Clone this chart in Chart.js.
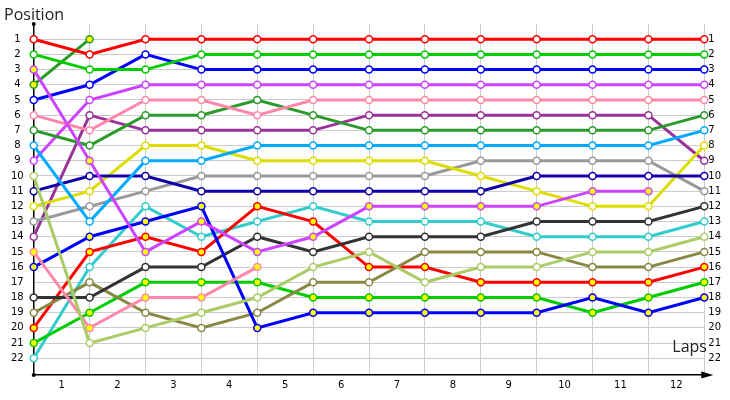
<!DOCTYPE html>
<html>
<head>
<meta charset="utf-8">
<script src="https://cdn.jsdelivr.net/npm/chart.js@4"></script>
<style>
  html, body { margin: 0; background: #fff; }
  #wrap { width: 730px; height: 400px; }
</style>
</head>
<body>
<div id="wrap"><canvas id="race"></canvas></div>
<script>
// x = 0 is the start grid, then one column per lap
const laps = [0, 1, 2, 3, 4, 5, 6, 7, 8, 9, 10, 11, 12];
const lapLabels = ['1', '2', '3', '4', '5', '6', '7', '8', '9', '10', '11', '12'];
const positions = [1, 2, 3, 4, 5, 6, 7, 8, 9, 10, 11, 12, 13, 14, 15, 16, 17, 18, 19, 20, 21, 22];

const redTop     = [1, 2, 1, 1, 1, 1, 1, 1, 1, 1, 1, 1, 1];
const greenTop   = [2, 3, 3, 2, 2, 2, 2, 2, 2, 2, 2, 2, 2];
const violetPit  = [3, 9, 15, 13, 15, 14, 12, 12, 12, 12, 11, 11, null];
const forestPit  = [4, 1, null, null, null, null, null, null, null, null, null, null, null];
const blueTop    = [5, 4, 2, 3, 3, 3, 3, 3, 3, 3, 3, 3, 3];
const pinkTop    = [6, 7, 5, 5, 6, 5, 5, 5, 5, 5, 5, 5, 5];
const forest     = [7, 8, 6, 6, 5, 6, 7, 7, 7, 7, 7, 7, 6];
const sky        = [8, 13, 9, 9, 8, 8, 8, 8, 8, 8, 8, 8, 7];
const violet     = [9, 5, 4, 4, 4, 4, 4, 4, 4, 4, 4, 4, 4];
const lime       = [10, 21, 20, 19, 18, 16, 15, 17, 16, 16, 15, 15, 14];
const navy       = [11, 10, 10, 11, 11, 11, 11, 11, 11, 10, 10, 10, 10];
const yellow     = [12, 11, 8, 8, 9, 9, 9, 9, 10, 11, 12, 12, 8];
const grey       = [13, 12, 11, 10, 10, 10, 10, 10, 9, 9, 9, 9, 11];
const plum       = [14, 6, 7, 7, 7, 7, 6, 6, 6, 6, 6, 6, 9];
const pinkPit    = [15, 20, 18, 18, 16, null, null, null, null, null, null, null, null];
const bluePit    = [16, 14, 13, 12, 20, 19, 19, 19, 19, 19, 18, 19, 18];
const charcoal   = [18, 18, 16, 16, 14, 15, 14, 14, 14, 13, 13, 13, 12];
const olive      = [19, 17, 19, 20, 19, 17, 17, 15, 15, 15, 16, 16, 15];
const redPit     = [20, 15, 14, 15, 12, 13, 16, 16, 17, 17, 17, 17, 16];
const greenPit   = [21, 19, 17, 17, 17, 18, 18, 18, 18, 18, 19, 18, 17];
const cyan       = [22, 16, 12, 14, 13, 12, 13, 13, 13, 14, 14, 14, 13];

const series = [
    [redTop, '#ff0000', false],
    [greenTop, '#00cc00', false],
    [violetPit, '#cc44ff', true],
    [forestPit, '#2a9a2a', true],
    [blueTop, '#0000ff', false],
    [pinkTop, '#ff88aa', false],
    [forest, '#2a9a2a', false],
    [sky, '#00aaff', false],
    [violet, '#cc44ff', false],
    [lime, '#aacc66', false],
    [navy, '#1100aa', false],
    [yellow, '#dddd00', false],
    [grey, '#999999', false],
    [plum, '#993399', false],
    [pinkPit, '#ff88aa', true],
    [bluePit, '#0000ff', true],
    [charcoal, '#333333', false],
    [olive, '#888844', false],
    [redPit, '#ff0000', true],
    [greenPit, '#00cc00', true],
    [cyan, '#33cccc', false],
];

const tickFont = { family: 'DejaVu Sans', size: 10 };
const gridColor = '#cccccc';

const axisDecor = {
    id: 'axisDecor',
    afterDraw(chart) {
        const ctx = chart.ctx;
        const a = chart.chartArea;
        ctx.save();
        ctx.fillStyle = '#000';
        // arrow on the lap axis
        ctx.beginPath();
        ctx.moveTo(a.right + 9, a.bottom);
        ctx.lineTo(a.right - 3, a.bottom - 3.5);
        ctx.lineTo(a.right - 3, a.bottom + 3.5);
        ctx.closePath();
        ctx.fill();
        ctx.beginPath();
        ctx.arc(a.left, a.top, 2, 0, Math.PI * 2);
        ctx.arc(a.left, a.bottom, 2, 0, Math.PI * 2);
        ctx.fill();
        ctx.fillStyle = '#222';
        ctx.font = '16px "Open Sans"';
        ctx.textBaseline = 'alphabetic';
        ctx.fillText('Position', 4, 20);
        ctx.fillText('Laps', a.right - 32, a.bottom - 23);
        ctx.restore();
    }
};

new Chart(document.getElementById('race'), {
    type: 'line',
    data: {
        datasets: series.map(([vals, color, pit]) => ({
            data: laps.map((lap, i) => ({ x: lap, y: vals[i] })),
            borderColor: color,
            backgroundColor: color,
            borderWidth: 3,
            pointRadius: 3.5,
            pointBorderWidth: 1.5,
            pointBorderColor: color,
            pointBackgroundColor: pit ? '#ffff00' : '#ffffff',
            tension: 0,
            clip: false,
        }))
    },
    options: {
        responsive: true,
        maintainAspectRatio: false,
        animation: false,
        layout: { padding: { top: 24, left: 1, right: 5, bottom: 5 } },
        plugins: { legend: { display: false }, tooltip: { enabled: false } },
        scales: {
            x: {
                type: 'linear',
                min: 0,
                max: 12,
                afterBuildTicks: scale => {
                    const t = [];
                    for (let v = 0; v <= 12; v += 0.5) t.push({ value: v });
                    scale.ticks = t;
                },
                grid: {
                    drawTicks: false,
                    color: c => (c.tick && Number.isInteger(c.tick.value) && c.tick.value > 0) ? gridColor : 'rgba(0,0,0,0)',
                },
                border: { color: '#000', width: 1.5 },
                ticks: {
                    autoSkip: false,
                    maxRotation: 0,
                    padding: 4,
                    color: '#000',
                    font: tickFont,
                    callback: v => Number.isInteger(v) ? '' : lapLabels[Math.floor(v)],
                },
            },
            y: {
                position: 'left',
                reverse: true,
                min: 0,
                max: 23.1,
                afterBuildTicks: scale => { scale.ticks = positions.map(v => ({ value: v })); },
                grid: { drawTicks: false, color: gridColor },
                border: { color: '#000', width: 1.5 },
                ticks: { crossAlign: 'center', padding: 10, color: '#000', font: tickFont },
            },
            yRight: {
                position: 'right',
                reverse: true,
                min: 0,
                max: 23.1,
                afterBuildTicks: scale => { scale.ticks = positions.map(v => ({ value: v })); },
                grid: { display: false, drawTicks: false },
                border: { display: false },
                ticks: { padding: 4, color: '#000', font: tickFont },
            },
        },
    },
    plugins: [axisDecor],
});
</script>
</body>
</html>
